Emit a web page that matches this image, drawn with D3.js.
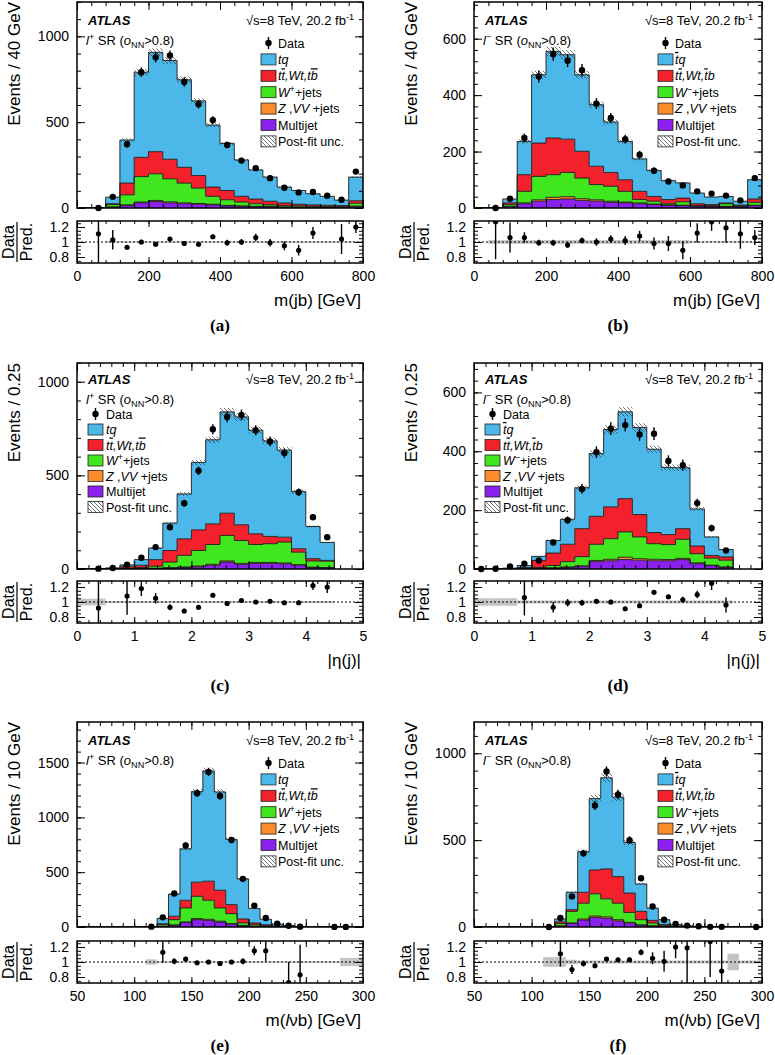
<!DOCTYPE html>
<html><head><meta charset="utf-8">
<script src="https://cdnjs.cloudflare.com/ajax/libs/d3/7.8.5/d3.min.js"></script>
<style>
body{margin:0;background:#fff;}
svg{display:block;font-family:"Liberation Sans",Arial,Helvetica,sans-serif;}
</style></head><body>
<svg id="chart" width="775" height="1055"></svg>
<script>
// ---------------- DATA ----------------
const mjbEdges = [0,40,80,120,160,200,240,280,320,360,400,440,480,520,560,600,640,680,720,760,800];
const etaEdges = [0,0.25,0.5,0.75,1,1.25,1.5,1.75,2,2.25,2.5,2.75,3,3.25,3.5,3.75,4,4.25,4.5];
const mlvbEdges = [50,60,70,80,90,100,110,120,130,140,150,160,170,180,190,200,210,220,230,240,250,260,270,280,290,300];
const mjbRange = [0, 800], etaRange = [0, 5], mlvbRange = [50, 300];

// (a) l+ m(jb)
const aMultijet = [0,0,5,15,30,38,30,25,22,18,12,10,8,8,5,4,4,3,3,8];
const aZvv      = [0,0,1,3,5,6,6,5,4,4,3,2,2,2,1,1,1,1,1,3];
const aWjets    = [0,0,14,59,148,155,134,115,90,46,33,23,15,9,8,7,5,5,4,17];
const aTop      = [0,0,5,68,112,129,114,92,73,54,54,33,27,20,15,10,8,7,6,14];
const aTq       = [0,0,38,251,496,579,575,510,435,361,274,212,170,141,93,80,65,52,32,138];
const aData     = [null,0,65,371,791,878,888,734,604,512,367,276,232,174,118,91,93,71,48,212];
const aRatio    = [null,1.11,1.03,0.93,1.0,0.97,1.04,0.98,0.97,1.07,0.99,1.0,1.06,0.99,0.95,0.89,1.12,null,1.04,1.2];
const aRatioErr = [0,0.5,0.13,0.03,0.03,0.03,0.03,0.03,0.03,0.03,0.04,0.04,0.05,0.05,0.06,0.07,0.08,0,0.2,0.08];
const aBand     = [0,0,0.01,0.01,0.01,0.01,0.01,0.01,0.01,0.01,0.01,0.01,0.01,0.01,0.01,0.01,0.01,0.01,0.01,0.01];

// (b) l- m(jb)
const bMultijet = [0,0,5,15,24,30,32,27,24,20,18,15,12,9,8,6,5,5,4,8];
const bZvv      = [0,0,1,3,5,8,8,6,5,4,3,3,2,2,2,1,1,1,1,2];
const bWjets    = [0,0,6,41,83,80,86,73,54,53,38,12,10,4,12,1,2,9,3,10];
const bTop      = [0,0,6,59,118,130,118,95,65,49,41,29,17,15,13,7,4,3,2,12];
const bTq       = [0,0,14,118,242,307,299,271,218,179,136,115,92,67,54,38,27,23,14,68];
const bData     = [null,0,33,248,466,545,522,488,370,319,244,189,132,94,80,59,51,44,27,106];
const bRatio    = [null,1.27,1.06,1.06,0.99,0.99,0.96,1.02,1.0,1.04,1.02,1.08,0.98,0.98,0.89,1.12,1.27,1.19,1.11,1.06];
const bRatioErr = [0,0.5,0.2,0.07,0.04,0.04,0.04,0.04,0.05,0.05,0.06,0.07,0.08,0.1,0.12,0.13,0.12,0.2,0.2,0.1];
const bBand     = [0,0.025,0.025,0.025,0.025,0.025,0.025,0.025,0.025,0.025,0.025,0.025,0.025,0.025,0.025,0.01,0.01,0.01,0.01,0.01];

// (c) l+ |eta(j)|
const cMultijet = [0,0,0,1,2,3,5,8,12,20,37,25,30,30,28,20,8,6];
const cZvv      = [0,0,0,0,1,1,2,3,4,5,6,5,5,5,4,3,2,2];
const cWjets    = [0,0,0,2,5,11,30,62,83,106,136,122,96,100,112,67,33,34];
const cTop      = [0,1,2,9,12,35,62,88,110,110,119,84,57,39,26,18,12,4];
const cTq       = [0,1,4,10,30,62,146,240,360,449,541,576,553,510,465,305,172,96];
const cData     = [null,2,5,23,60,117,223,351,525,746,812,823,741,681,619,410,277,170];
const cRatio    = [null,0.92,null,1.08,1.18,1.05,0.93,0.88,0.93,1.09,0.98,1.02,1.0,1.01,0.99,0.99,1.22,1.2];
const cRatioErr = [0,0.5,0,0.25,0.1,0.07,0.04,0.03,0.03,0.03,0.02,0.02,0.02,0.02,0.02,0.03,0.06,0.08];
const cBand     = [0.045,0.045,0.012,0.012,0.012,0.012,0.012,0.012,0.012,0.012,0.012,0.012,0.012,0.012,0.012,0.012,0.012,0.012];

// (d) l- |eta(j)|
const dMultijet = [0,0,0,0,1,3,5,8,25,28,32,30,28,28,32,18,11,5];
const dZvv      = [0,0,0,0,1,1,2,3,4,5,8,5,5,4,4,3,2,2];
const dWjets    = [0,0,0,1,3,8,18,31,55,70,86,74,53,51,65,31,24,23];
const dTop      = [0,0,1,4,24,42,59,95,95,108,113,76,38,34,36,26,9,11];
const dTq       = [0,1,2,7,14,43,85,139,213,263,295,296,283,228,207,126,63,25];
const dData     = [0,1,9,18,29,90,166,272,397,477,489,457,460,367,353,224,139,63];
const dRatio    = [null,null,null,1.06,null,0.93,0.99,0.99,1.01,1.0,0.91,0.95,1.13,1.07,1.03,1.1,1.25,0.96];
const dRatioErr = [0,0,0,0.24,0,0.07,0.05,0.04,0.03,0.03,0.03,0.03,0.03,0.03,0.04,0.05,0.09,0.1];
const dBand     = [0.05,0.05,0.05,0.02,0.02,0.02,0.02,0.02,0.02,0.02,0.02,0.02,0.02,0.02,0.02,0.02,0.02,0.02];

// (e) l+ m(lvb)
const eMultijet = [0,0,0,0,0,0,0,5,15,40,67,60,45,25,10,5,3,1,0,0,0,0,0,0,0];
const eZvv      = [0,0,0,0,0,0,0,2,4,7,10,10,8,6,4,3,2,1,0,0,0,0,0,0,0];
const eWjets    = [0,0,0,0,0,0,0,14,48,127,203,174,121,91,23,13,7,2,2,0,0,0,0,0,0];
const eTop      = [0,0,0,0,0,0,0,9,31,70,129,174,161,82,36,16,9,4,1,0,0,0,0,0,0];
const eTq       = [0,0,0,0,0,0,2,48,202,469,826,1006,897,595,366,133,50,19,11,4,1,1,1,1,1];
const eData     = [null,null,null,null,null,null,3,88,305,744,1220,1415,1195,793,439,195,82,30,12,3,null,null,1,1,null];
const eRatio    = [null,null,null,null,null,null,null,1.13,1.01,1.04,0.99,1.0,0.98,1.0,1.01,1.15,1.15,null,0.72,0.83,null,null,null,null,null];
const eRatioErr = [0,0,0,0,0,0,0,0.14,0.04,0.03,0.02,0.02,0.02,0.02,0.04,0.06,0.14,0,0.28,0.4,0,0,0,0,0];
const eBand     = [0,0,0,0,0,0,0.035,0.01,0.01,0.01,0.01,0.01,0.01,0.01,0.01,0.01,0.01,0.01,0.01,0.01,0.01,0.01,0.01,0.055,0.055];

// (f) l- m(lvb)
const fMultijet = [0,0,0,0,0,0,0,5,20,40,55,50,35,22,10,5,2,0,0,0,0,0,0,0,0];
const fZvv      = [0,0,0,0,0,0,0,2,4,6,8,8,7,5,3,2,1,0,0,0,0,0,0,0,0];
const fWjets    = [0,0,0,0,0,0,0,13,66,91,128,104,95,57,29,16,5,3,0,0,0,0,0,0,0];
const fTop      = [0,0,0,0,0,0,0,10,10,63,137,172,153,111,48,15,7,2,0,0,0,0,0,0,0];
const fTq       = [0,0,0,0,0,0,2,16,100,233,411,525,458,291,158,71,27,9,7,2,1,1,1,0.5,0.5];
const fData     = [null,null,null,null,null,null,0,52,176,424,700,895,763,500,281,118,42,17,8,4,1,1,null,null,0];
const fRatio    = [null,null,null,null,null,null,null,1.11,0.9,0.98,0.95,1.04,1.03,1.03,1.13,1.05,1.01,1.2,1.19,null,1.4,0.88,null,null,null];
const fRatioErr = [0,0,0,0,0,0,0,0.17,0.06,0.04,0.03,0.02,0.02,0.03,0.04,0.08,0.14,0.15,0.5,0,0.6,0.5,0,0,0];
const fBand     = [0,0,0,0,0,0,0.065,0.065,0.03,0.02,0.02,0.02,0.02,0.02,0.02,0.02,0.02,0.02,0.02,0.02,0.02,0.02,0.11,0.02,0.02];

const postFitUnc = [0.025, 0.03, 0.025, 0.03, 0.02, 0.03];

// ---------------- DRAWING ----------------
const svg = d3.select('#chart');
const defs = svg.append('defs');
const pat = defs.append('pattern').attr('id','hatch').attr('patternUnits','userSpaceOnUse').attr('width',4).attr('height',4);
pat.append('path').attr('d','M-1,-1L5,5M-1,3L1,5M3,-1L5,1').attr('stroke','#333').attr('stroke-width',0.7);

const COL = {mj:'#8b21ee', zvv:'#fb8c2b', w:'#40e61e', top:'#f2212c', tq:'#4cb8ea'};
const KEYS = ['mj','zvv','w','top','tq'];

function rich(t, parts, fs) {
  let shift = 0;
  parts.forEach(p => {
    const ts = t.append('tspan').text(p.t);
    let target = 0, size = fs;
    if (p.sup) { target = -0.4*fs; size = fs*0.7; }
    if (p.sub) { target = 0.25*fs; size = fs*0.7; }
    ts.attr('dy', target - shift).attr('font-size', size);
    shift = target;
    if (p.it) ts.attr('font-style','italic');
    if (p.ov) ts.style('text-decoration','overline');
  });
  return t;
}
function tickVals(lo, hi, step) { const out=[]; const n=Math.round((hi-lo)/step); for(let i=0;i<=n;i++) out.push(+(lo+i*step).toFixed(6)); return out; }

function drawPanel(c, idx) {
  const g = svg.append('g');
  const n = c.edges.length - 1;
  const x = d3.scaleLinear().domain(c.xRange).range([c.x0, c.x1]);
  const y = d3.scaleLinear().domain([0, c.yMax]).range([c.mBot, c.mTop]);
  const r = d3.scaleLinear().domain([0.72, 1.28]).range([c.rBot, c.rTop]);
  defs.append('clipPath').attr('id','cm'+idx).append('rect').attr('x',c.x0).attr('y',c.mTop).attr('width',c.x1-c.x0).attr('height',c.mBot-c.mTop);
  defs.append('clipPath').attr('id','cr'+idx).append('rect').attr('x',c.x0).attr('y',c.rTop).attr('width',c.x1-c.x0).attr('height',c.rBot-c.rTop);

  const rows = d3.range(n).map(i => ({mj:c.mj[i], zvv:c.zvv[i], w:c.w[i], top:c.top[i], tq:c.tq[i]}));
  const series = d3.stack().keys(KEYS)(rows);
  const area = d3.area().x(d=>x(d.x)).y0(d=>y(d.y0)).y1(d=>y(d.y1));
  const mg = g.append('g').attr('clip-path',`url(#cm${idx})`);
  series.forEach(s => {
    const pts = s.flatMap((d,i) => [{x:c.edges[i],y0:d[0],y1:d[1]},{x:c.edges[i+1],y0:d[0],y1:d[1]}]);
    mg.append('path').attr('d', area(pts)).attr('fill', COL[s.key]);
  });
  const line = d3.line().x(d=>x(d[0])).y(d=>y(d[1]));
  series.forEach(s => {
    const pts = [[c.edges[0],0]];
    s.forEach((d,i)=>{ pts.push([c.edges[i],d[1]]); pts.push([c.edges[i+1],d[1]]); });
    pts.push([c.edges[n],0]);
    mg.append('path').attr('d', line(pts)).attr('fill','none').attr('stroke','#1b1b1b').attr('stroke-width',0.9);
  });
  const tot = rows.map(d => KEYS.reduce((a,k)=>a+d[k],0));
  const hb = d3.range(n).filter(i => tot[i] > 0);
  mg.selectAll('rect.hatch').data(hb).join('rect')
    .attr('x', i => x(c.edges[i])).attr('width', i => x(c.edges[i+1]) - x(c.edges[i]))
    .attr('y', i => y(tot[i]*(1+c.unc))).attr('height', i => y(tot[i]*(1-c.unc)) - y(tot[i]*(1+c.unc)))
    .attr('fill','url(#hatch)');

  // data
  const mids = d3.range(n).map(i => (c.edges[i]+c.edges[i+1])/2);
  const di = d3.range(n).filter(i => c.data[i] != null);
  g.selectAll('line.err').data(di).join('line')
    .attr('x1', i=>x(mids[i])).attr('x2', i=>x(mids[i]))
    .attr('y1', i=>y(c.data[i]-Math.sqrt(c.data[i]))).attr('y2', i=>y(c.data[i]+Math.sqrt(c.data[i])))
    .attr('stroke','#000').attr('stroke-width',1.4);
  g.selectAll('circle.pt').data(di).join('circle')
    .attr('cx', i=>x(mids[i])).attr('cy', i=>y(c.data[i])).attr('r',3.2).attr('fill','#000');

  // axes main
  const yMaj = tickVals(0, c.yMax - (c.yMax % c.yMajor), c.yMajor);
  const yMin = tickVals(0, c.yMax - (c.yMax % c.yMinor), c.yMinor);
  const xMaj = tickVals(c.xRange[0], c.xRange[1], c.xMajor);
  const xMin = tickVals(c.xRange[0], c.xRange[1], c.xMinor);
  const ax = (sel, axis) => { sel.call(axis); sel.select('.domain').remove(); sel.selectAll('line').attr('stroke-width',1); sel.selectAll('text').attr('font-size',14).attr('font-family','"Liberation Sans",Arial,sans-serif').attr('fill','#000'); return sel; };
  ax(g.append('g').attr('transform',`translate(${c.x0},0)`), d3.axisLeft(y).tickValues(yMaj).tickSize(-8).tickPadding(8).tickFormat(d3.format('d')));
  ax(g.append('g').attr('transform',`translate(${c.x0},0)`), d3.axisLeft(y).tickValues(yMin).tickSize(-4).tickFormat(''));
  ax(g.append('g').attr('transform',`translate(${c.x1},0)`), d3.axisRight(y).tickValues(yMaj).tickSize(-8).tickFormat(''));
  ax(g.append('g').attr('transform',`translate(${c.x1},0)`), d3.axisRight(y).tickValues(yMin).tickSize(-4).tickFormat(''));
  ax(g.append('g').attr('transform',`translate(0,${c.mTop})`), d3.axisTop(x).tickValues(xMaj).tickSize(-8).tickFormat(''));
  ax(g.append('g').attr('transform',`translate(0,${c.mTop})`), d3.axisTop(x).tickValues(xMin).tickSize(-4).tickFormat(''));
  ax(g.append('g').attr('transform',`translate(0,${c.mBot})`), d3.axisBottom(x).tickValues(xMaj).tickSize(-8).tickFormat(''));
  ax(g.append('g').attr('transform',`translate(0,${c.mBot})`), d3.axisBottom(x).tickValues(xMin).tickSize(-4).tickFormat(''));
  g.append('rect').attr('x',c.x0).attr('y',c.mTop).attr('width',c.x1-c.x0).attr('height',c.mBot-c.mTop).attr('fill','none').attr('stroke','#000').attr('stroke-width',1.5);

  // ratio
  const rg = g.append('g').attr('clip-path',`url(#cr${idx})`);
  const bi = d3.range(n).filter(i => c.band[i] > 0);
  rg.selectAll('rect.band').data(bi).join('rect')
    .attr('x', i=>x(c.edges[i])).attr('width', i=>x(c.edges[i+1])-x(c.edges[i]))
    .attr('y', i=>r(1+c.band[i])).attr('height', i=>r(1-c.band[i])-r(1+c.band[i]))
    .attr('fill','#c4c4c4');
  rg.append('line').attr('x1',c.x0).attr('x2',c.x1).attr('y1',r(1)).attr('y2',r(1)).attr('stroke','#000').attr('stroke-width',1).attr('stroke-dasharray','2,2');
  const ri = d3.range(n).filter(i => c.ratio[i] != null);
  rg.selectAll('line.rerr').data(ri).join('line')
    .attr('x1', i=>x(mids[i])).attr('x2', i=>x(mids[i]))
    .attr('y1', i=>r(c.ratio[i]-c.ratioErr[i])).attr('y2', i=>r(c.ratio[i]+c.ratioErr[i]))
    .attr('stroke','#000').attr('stroke-width',1.4);
  rg.selectAll('circle.rpt').data(ri).join('circle')
    .attr('cx', i=>x(mids[i])).attr('cy', i=>r(Math.min(1.275, Math.max(0.725, c.ratio[i])))).attr('r',2.6).attr('fill','#000');
  const rMaj = [0.8,1,1.2], rMin = [0.75,0.85,0.9,0.95,1.05,1.1,1.15,1.25];
  ax(g.append('g').attr('transform',`translate(${c.x0},0)`), d3.axisLeft(r).tickValues(rMaj).tickSize(-8).tickPadding(8).tickFormat(d => d===1 ? '1' : d3.format('.1f')(d)));
  ax(g.append('g').attr('transform',`translate(${c.x0},0)`), d3.axisLeft(r).tickValues(rMin).tickSize(-4).tickFormat(''));
  ax(g.append('g').attr('transform',`translate(${c.x1},0)`), d3.axisRight(r).tickValues(rMaj).tickSize(-8).tickFormat(''));
  ax(g.append('g').attr('transform',`translate(${c.x1},0)`), d3.axisRight(r).tickValues(rMin).tickSize(-4).tickFormat(''));
  ax(g.append('g').attr('transform',`translate(0,${c.rTop})`), d3.axisTop(x).tickValues(xMaj).tickSize(-6).tickFormat(''));
  ax(g.append('g').attr('transform',`translate(0,${c.rTop})`), d3.axisTop(x).tickValues(xMin).tickSize(-3).tickFormat(''));
  ax(g.append('g').attr('transform',`translate(0,${c.rBot})`), d3.axisBottom(x).tickValues(xMaj).tickSize(-6).tickPadding(8).tickFormat(d3.format('d')));
  ax(g.append('g').attr('transform',`translate(0,${c.rBot})`), d3.axisBottom(x).tickValues(xMin).tickSize(-3).tickFormat(''));
  g.append('rect').attr('x',c.x0).attr('y',c.rTop).attr('width',c.x1-c.x0).attr('height',c.rBot-c.rTop).attr('fill','none').attr('stroke','#000').attr('stroke-width',1.5);

  // texts
  const tOff = c.legendLeft ? {atlas:21, reg:41} : {atlas:23, reg:43};
  g.append('text').attr('x',c.x0+11).attr('y',c.mTop+tOff.atlas).attr('font-size',13).attr('font-weight','bold').attr('font-style','italic').text('ATLAS');
  rich(g.append('text').attr('x',c.x1-9).attr('y',c.mTop+tOff.atlas).attr('text-anchor','end'), [{t:'\u221As=8 TeV, 20.2 fb'},{t:'-1',sup:1}], 13);
  const ch = c.minus ? '\u2212' : '+';
  rich(g.append('text').attr('x',c.x0+9).attr('y',c.mTop+tOff.reg), [{t:'l',it:1},{t:ch,sup:1},{t:' SR ('},{t:'o',it:1},{t:'NN',sub:1},{t:'>0.8)'}], 13);

  // legend
  const L = c.legendLeft ? {bx:c.x0+11, tx:c.x0+29, y0:c.mTop+51, dy:15.5} : {bx:c.x0+184, tx:c.x0+201, y0:c.mTop+41, dy:16.4};
  const items = [
    {type:'data', parts:[{t:'Data'}]},
    {type:'tq', parts: c.minus ? [{t:'t',it:1,ov:1},{t:'q',it:1}] : [{t:'tq',it:1}]},
    {type:'top', parts: c.minus ? [{t:'t',it:1},{t:'t',it:1,ov:1},{t:',Wt,',it:1},{t:'t',it:1,ov:1},{t:'b',it:1}] : [{t:'t',it:1},{t:'t',it:1,ov:1},{t:',Wt,t',it:1},{t:'b',it:1,ov:1}]},
    {type:'w', parts:[{t:'W',it:1},{t:c.minus?'\u2212':'+',sup:1},{t:'+jets'}]},
    {type:'zvv', parts:[{t:'Z',it:1},{t:' ,'},{t:'VV',it:1},{t:' +jets'}]},
    {type:'mj', parts:[{t:'Multijet'}]},
    {type:'unc', parts:[{t:'Post-fit unc.'}]}
  ];
  items.forEach((it, k) => {
    const yy = L.y0 + k*L.dy;
    if (it.type === 'data') {
      g.append('line').attr('x1',L.bx+7.5).attr('x2',L.bx+7.5).attr('y1',yy-6).attr('y2',yy+6).attr('stroke','#000').attr('stroke-width',1.4);
      g.append('circle').attr('cx',L.bx+7.5).attr('cy',yy).attr('r',3.2).attr('fill','#000');
    } else {
      g.append('rect').attr('x',L.bx).attr('y',yy-5.5).attr('width',15).attr('height',11)
        .attr('fill', it.type==='unc' ? 'url(#hatch)' : COL[it.type]).attr('stroke','#222').attr('stroke-width',0.8);
    }
    rich(g.append('text').attr('x',L.tx).attr('y',yy+4.5), it.parts, 12.5);
  });

  // axis titles
  g.append('text').attr('transform',`translate(${c.x0-57},${c.mTop}) rotate(-90)`).attr('text-anchor','end').attr('font-size',17).text(c.yTitle);
  const cy = (c.rTop + c.rBot)/2, lx = c.x0 - 60;
  g.append('text').attr('transform',`translate(${lx},${cy}) rotate(-90)`).attr('text-anchor','middle').attr('y',-3).attr('font-size',16).text('Data');
  g.append('text').attr('transform',`translate(${lx},${cy}) rotate(-90)`).attr('text-anchor','middle').attr('y',15).attr('font-size',16).text('Pred.');
  g.append('line').attr('x1',lx).attr('x2',lx).attr('y1',cy-20).attr('y2',cy+20).attr('stroke','#000').attr('stroke-width',1.2);
  rich(g.append('text').attr('x',c.x1-2).attr('y',c.rBot+43).attr('text-anchor','end').attr('font-size',17), c.xTitle, 17);
  g.append('text').attr('x',(c.x0+c.x1)/2).attr('y',c.rBot+68).attr('text-anchor','middle').attr('font-size',17).attr('font-weight','bold').attr('font-family','"Liberation Serif","Times New Roman",serif').text(c.caption);
}

const L0 = 77, L1 = 363, R0 = 474, R1 = 762;
const rowsY = [{mTop:2,mBot:208,rTop:221,rBot:263},{mTop:363,mBot:569,rTop:581,rBot:623},{mTop:722,mBot:927,rTop:941,rBot:983}];
const mjbTitle = [{t:'m(jb) [GeV]'}], etaTitle = [{t:'|\u03B7(j)|'}], mlvbTitle = [{t:'m('},{t:'l',it:1},{t:'\u03BDb) [GeV]'}];
const panels = [
  {x0:L0,x1:L1,...rowsY[0],edges:mjbEdges,xRange:mjbRange,yMax:1200,yMajor:500,yMinor:100,xMajor:200,xMinor:40,mj:aMultijet,zvv:aZvv,w:aWjets,top:aTop,tq:aTq,data:aData,ratio:aRatio,ratioErr:aRatioErr,band:aBand,unc:postFitUnc[0],yTitle:'Events / 40 GeV',xTitle:mjbTitle,caption:'(a)'},
  {x0:R0,x1:R1,...rowsY[0],edges:mjbEdges,xRange:mjbRange,yMax:730,yMajor:200,yMinor:40,xMajor:200,xMinor:40,mj:bMultijet,zvv:bZvv,w:bWjets,top:bTop,tq:bTq,data:bData,ratio:bRatio,ratioErr:bRatioErr,band:bBand,unc:postFitUnc[1],minus:1,yTitle:'Events / 40 GeV',xTitle:mjbTitle,caption:'(b)'},
  {x0:L0,x1:L1,...rowsY[1],edges:etaEdges,xRange:etaRange,yMax:1100,yMajor:500,yMinor:100,xMajor:1,xMinor:0.2,mj:cMultijet,zvv:cZvv,w:cWjets,top:cTop,tq:cTq,data:cData,ratio:cRatio,ratioErr:cRatioErr,band:cBand,unc:postFitUnc[2],legendLeft:1,yTitle:'Events / 0.25',xTitle:etaTitle,caption:'(c)'},
  {x0:R0,x1:R1,...rowsY[1],edges:etaEdges,xRange:etaRange,yMax:700,yMajor:200,yMinor:40,xMajor:1,xMinor:0.2,mj:dMultijet,zvv:dZvv,w:dWjets,top:dTop,tq:dTq,data:dData,ratio:dRatio,ratioErr:dRatioErr,band:dBand,unc:postFitUnc[3],legendLeft:1,minus:1,yTitle:'Events / 0.25',xTitle:etaTitle,caption:'(d)'},
  {x0:L0,x1:L1,...rowsY[2],edges:mlvbEdges,xRange:mlvbRange,yMax:1870,yMajor:500,yMinor:100,xMajor:50,xMinor:10,mj:eMultijet,zvv:eZvv,w:eWjets,top:eTop,tq:eTq,data:eData,ratio:eRatio,ratioErr:eRatioErr,band:eBand,unc:postFitUnc[4],yTitle:'Events / 10 GeV',xTitle:mlvbTitle,caption:'(e)'},
  {x0:R0,x1:R1,...rowsY[2],edges:mlvbEdges,xRange:mlvbRange,yMax:1180,yMajor:500,yMinor:100,xMajor:50,xMinor:10,mj:fMultijet,zvv:fZvv,w:fWjets,top:fTop,tq:fTq,data:fData,ratio:fRatio,ratioErr:fRatioErr,band:fBand,unc:postFitUnc[5],minus:1,yTitle:'Events / 10 GeV',xTitle:mlvbTitle,caption:'(f)'}
];
panels.forEach((p,i) => drawPanel(p,i));
</script></body></html>
